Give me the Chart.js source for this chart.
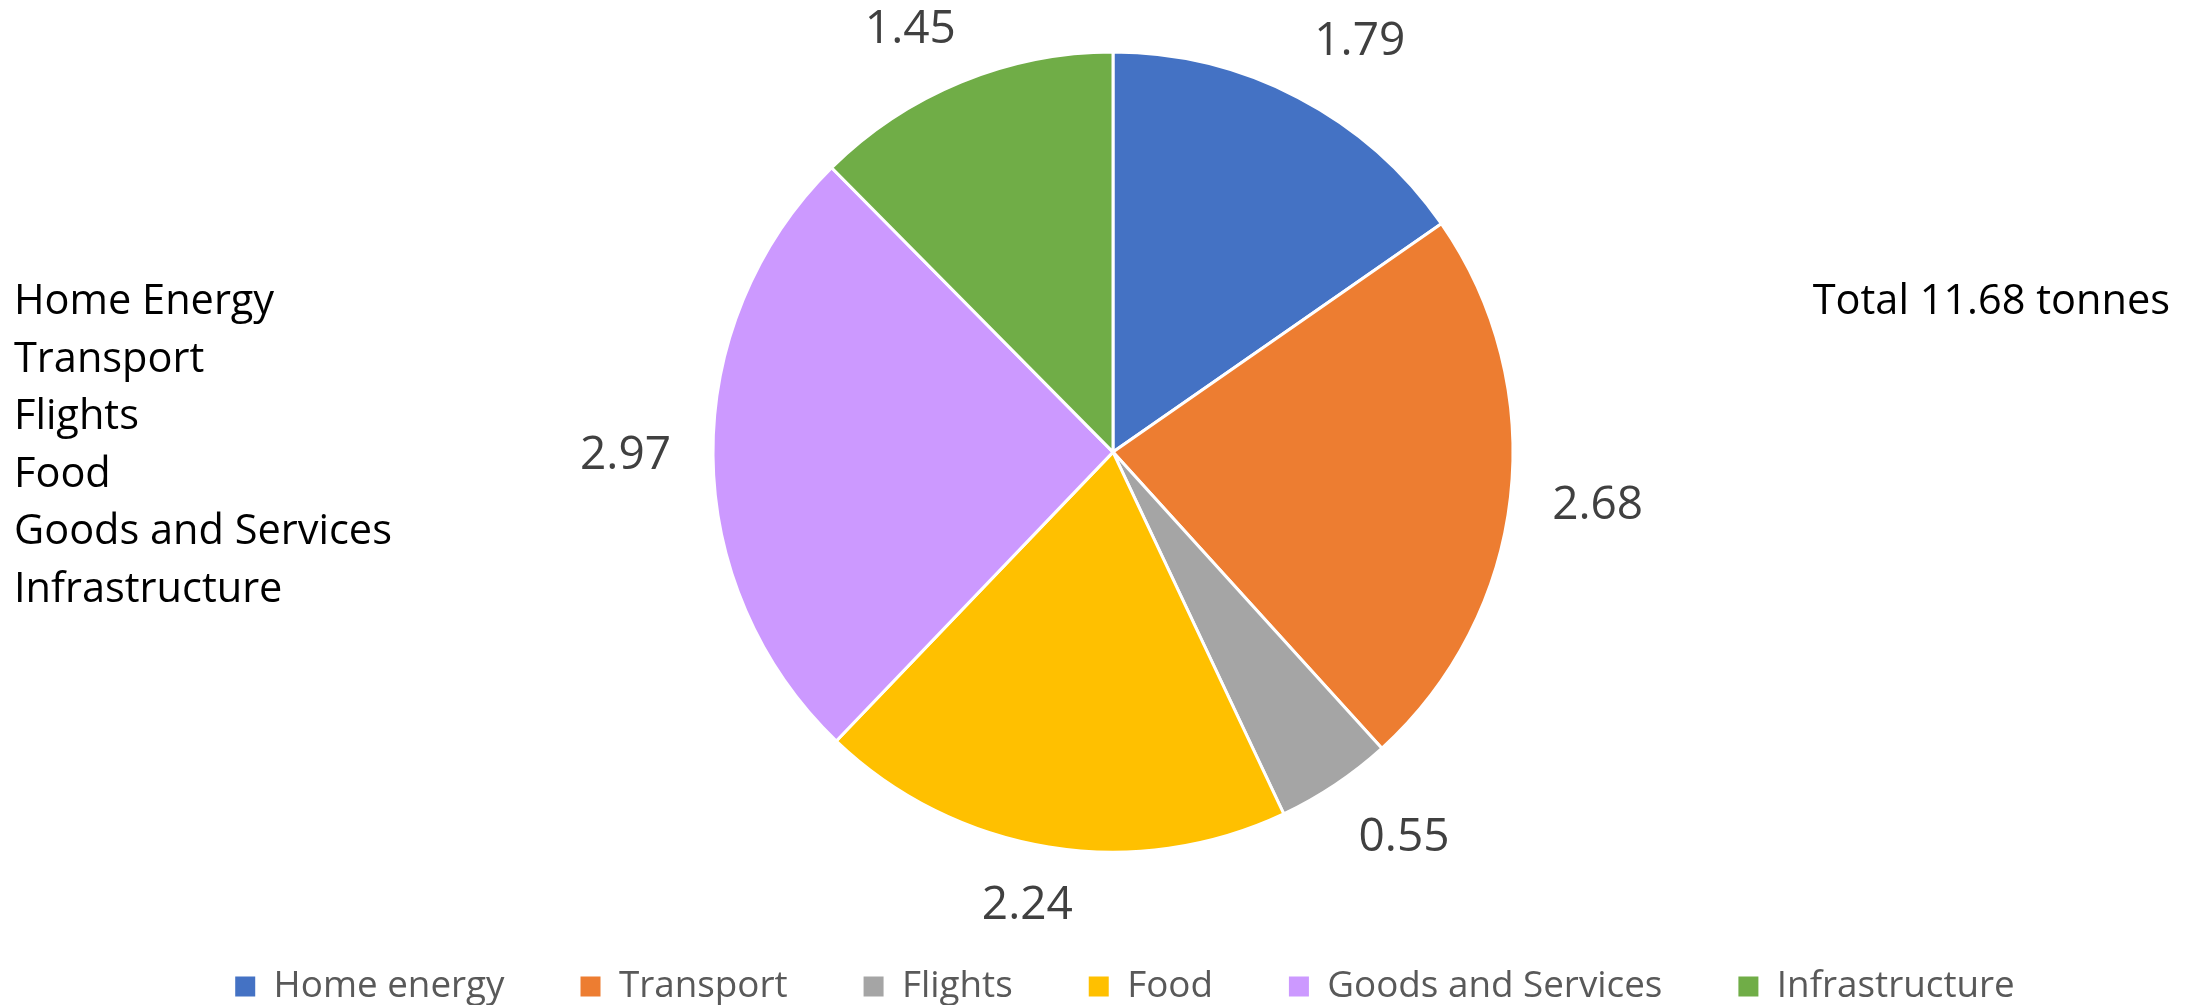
<!DOCTYPE html>
<html>
<head>
<meta charset="utf-8">
<title>Carbon footprint</title>
<script src="https://cdn.jsdelivr.net/npm/chart.js@4.4.1/dist/chart.umd.min.js"></script>
<style>
    html, body { margin: 0; background: #fff; overflow: hidden; font-family: 'Open Sans', sans-serif; }
    #wrap { position: relative; width: 2189px; height: 1005px; overflow: hidden; }
    #footprintChart { position: absolute; left: 0; top: 0; }
    .side { position: absolute; font-size: 41.5px; line-height: 57.5px; color: #000; white-space: nowrap; }
    #categoryList { left: 14px; top: 270px; }
    #total { right: 19px; top: 270px; text-align: right; }
</style>
</head>
<body>
<div id="wrap">
    <canvas id="footprintChart" width="2189" height="1015"></canvas>
    <div id="categoryList" class="side"></div>
    <div id="total" class="side"></div>
</div>
<script>
// tonnes CO2e per year
const categories = ['Home energy', 'Transport', 'Flights', 'Food', 'Goods and Services', 'Infrastructure'];
const sideLabels = ['Home Energy', 'Transport', 'Flights', 'Food', 'Goods and Services', 'Infrastructure'];
const tonnes = [1.79, 2.68, 0.55, 2.24, 2.97, 1.45];
const colours = ['#4472C4', '#ED7D31', '#A5A5A5', '#FFC000', '#CC99FF', '#70AD47'];

document.getElementById('categoryList').innerHTML = sideLabels.map(function (s) {
    return '<div>' + s + '</div>';
}).join('');
const total = tonnes.reduce(function (a, b) { return a + b; }, 0);
document.getElementById('total').textContent = 'Total ' + total.toFixed(2) + ' tonnes';

// value labels just outside each slice: the label corner nearest the centre
// sits on the slice's mid-angle ray, a little past the rim
const sliceLabels = {
    id: 'sliceLabels',
    afterDatasetsDraw: function (chart) {
        const ctx = chart.ctx;
        const meta = chart.getDatasetMeta(0);
        const gap = 42;
        const halfH = 18;
        ctx.save();
        ctx.font = '46px "Open Sans"';
        ctx.fillStyle = '#404040';
        ctx.textAlign = 'center';
        ctx.textBaseline = 'middle';
        meta.data.forEach(function (arc, i) {
            const text = tonnes[i].toFixed(2);
            const halfW = ctx.measureText(text).width / 2;
            const mid = (arc.startAngle + arc.endAngle) / 2;
            const ux = Math.cos(mid);
            const uy = Math.sin(mid);
            const r = arc.outerRadius + gap;
            const clamp = function (v) { return Math.max(-1, Math.min(1, v)); };
            const x = arc.x + ux * r + halfW * clamp(ux * 2);
            const y = Math.max(arc.y + uy * r + halfH * clamp(uy * 2), 30);
            ctx.fillText(text, x, y);
        });
        ctx.restore();
    }
};

// nudge the legend row a little to the right of the pie's centre line
const legendShift = {
    id: 'legendShift',
    afterLayout: function (chart) {
        chart.legend.left += 12;
        chart.legend.right += 12;
    }
};

Chart.defaults.font.family = "'Open Sans', sans-serif";

const ctx = document.getElementById('footprintChart').getContext('2d');
new Chart(ctx, {
    type: 'pie',
    data: {
        labels: categories,
        datasets: [{
            data: tonnes,
            backgroundColor: colours,
            borderColor: '#ffffff',
            borderWidth: 3,
            radius: 400
        }]
    },
    options: {
        responsive: false,
        animation: false,
        layout: { padding: { top: 12, left: 37, right: 0, bottom: 0 } },
        plugins: {
            legend: {
                position: 'bottom',
                labels: {
                    color: '#595959',
                    font: { size: 36.8 },
                    boxWidth: 20,
                    boxHeight: 20,
                    padding: 76,
                    generateLabels: function (chart) {
                        const items = Chart.overrides.pie.plugins.legend.labels.generateLabels(chart);
                        items.forEach(function (it) { it.lineWidth = 0; });
                        return items;
                    }
                }
            },
            tooltip: { enabled: false }
        }
    },
    plugins: [sliceLabels, legendShift]
});
</script>
</body>
</html>
